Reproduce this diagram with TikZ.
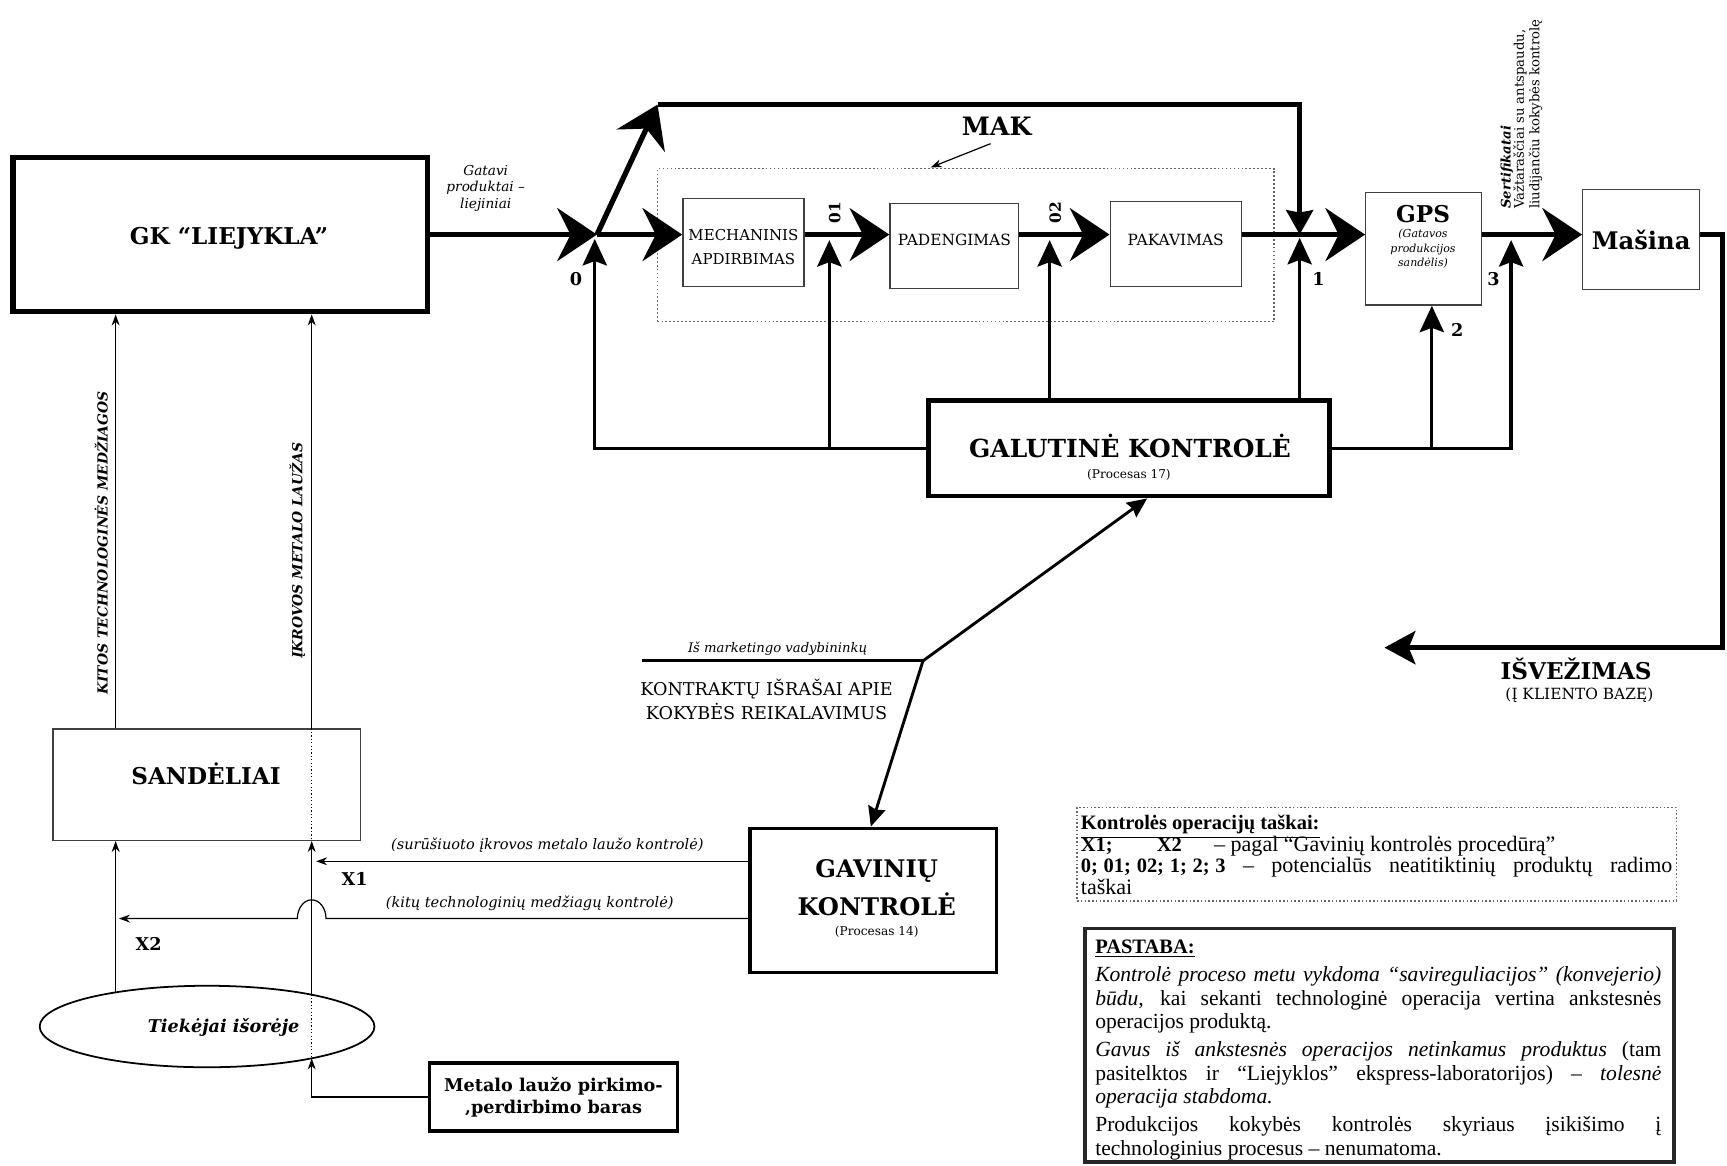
\documentclass[tikz,border=0pt]{standalone}
\usepackage{fontspec}
\setmainfont{DejaVu Serif}
\newfontfamily\notefont{Liberation Serif}
\usetikzlibrary{arrows.meta,shapes.geometric,calc}
\newcommand\fsz[2]{\fontsize{#1}{#2}\selectfont}
% keep a fixed baseline distance in the note boxes
\newcommand\tightlines{\lineskiplimit=-20pt\lineskip=0pt\relax}

\tikzset{
  flow/.style={line width=2.4pt},
  bighead/.style={-{Stealth[length=18pt,width=24pt,inset=6pt]}},
  downhead/.style={-{Stealth[length=11pt,width=12pt,inset=1pt]}},
  fb/.style={line width=1.5pt},
  fbhead/.style={-{Stealth[length=12pt,width=11pt,inset=2pt]}},
  thinline/.style={line width=0.55pt},
  smallhead/.style={-{Stealth[length=5pt,width=3.6pt]}},
  medline/.style={line width=1.3pt},
  medhead/.style={-{Stealth[length=9pt,width=8pt,inset=1pt]}},
  opbox/.style={draw=black!75, line width=0.6pt, rectangle, inner sep=0pt},
  heavybox/.style={draw, line width=2.5pt, rectangle, inner sep=0pt},
  numlabel/.style={font=\fsz{8pt}{9pt}\bfseries, inner sep=1pt},
  smallit/.style={font=\fsz{6pt}{7.5pt}\itshape, inner sep=1pt},
}
% bold items of the legend
\newcommand\lgb[1]{{\bfseries\fsz{9.3pt}{9.7pt}#1}}

\begin{document}
\begin{tikzpicture}[x=0.5pt,y=-0.5pt]
\path[use as bounding box, fill=white] (0,0) rectangle (1568,1058);

% ---------- main production line ----------
\node[heavybox, minimum width=188pt, minimum height=70pt] (gk) at (200,213) {};
\node[font=\fsz{10.5pt}{13pt}\bfseries] (gkt) at (208,216) {GK “LIEJYKLA”};
\node[smallit, align=center, font=\fsz{6.2pt}{7.5pt}\itshape] (gatavi) at (441,171)
  {Gatavi\\produktai –\\liejiniai};

\node[draw=black!60, densely dotted, line width=0.8pt, minimum width=280pt,
      minimum height=69.5pt, inner sep=0pt] (mak) at (877,222.5) {};
\node[font=\fsz{11.5pt}{13pt}\bfseries] (makl) at (905,115) {MAK};
\coordinate (makp) at (845,152);
\draw[thinline, smallhead] (makl.250) -- (makp);

\node[opbox, minimum width=55pt, minimum height=40pt] (mech) at (675,220) {};
\node[font=\fsz{6.8pt}{11pt}, align=center] (mecht) at (675,224) {MECHANINIS\\APDIRBIMAS};
\node[opbox, minimum width=58.5pt, minimum height=38.5pt] (pad) at (866.5,223.5) {};
\node[font=\fsz{7pt}{9pt}] (padt) at (866.5,218) {PADENGIMAS};
\node[opbox, minimum width=59.5pt, minimum height=38.5pt] (pak) at (1067.5,221.5) {};
\node[font=\fsz{7pt}{9pt}] (pakt) at (1067.5,218) {PAKAVIMAS};

\node[opbox, minimum width=52.5pt, minimum height=51pt] (gps) at (1292.5,226) {};
\node[font=\fsz{10.5pt}{12pt}\bfseries] (gpst) at (1292,194) {GPS};
\node[align=center, font=\fsz{5pt}{6.5pt}\itshape] (gpss) at (1292,226)
  {(Gatavos\\produkcijos\\sandėlis)};

\node[opbox, minimum width=53pt, minimum height=45.5pt,
      font=\fsz{11pt}{13pt}\bfseries] (masina) at (1490,217.5) {Mašina};

\node[rotate=90, anchor=north west, align=left, inner sep=0pt,
      font=\fsz{6pt}{6pt}] (sert) at (1362,190)
  {{\bfseries\itshape Sertifikatai}\\Važtaraščiai su antspaudu,\\liudijančiu kokybės kontrolę};

% junctions of the flow
\coordinate (j0) at (542,213);
\coordinate (tl) at (597,95);
\coordinate (j1) at (1180,213);
\coordinate (corner) at (1564,588);
\coordinate (isv) at (1257,588);

\draw[flow, bighead] (gk.east) -- (j0);
\draw[flow, bighead] (j0) -- (j0 -| mech.west);
\draw[flow, bighead] (j0) -- (tl);
\draw[flow, downhead] (tl) -| (j1);
\draw[flow, bighead] (mech.east |- j0) -- (pad.west |- j0);
\draw[flow, bighead] (pad.east |- j0) -- (pak.west |- j0);
\draw[flow, bighead] (pak.east |- j0) -- (gps.west |- j0);
\draw[flow, bighead] (gps.east |- j0) -- (masina.west |- j0);
\draw[flow, -{Stealth[length=14pt,width=15pt,inset=3pt]}]
  (masina.east |- j0) -| (corner) -- (isv);

\node[font=\fsz{10.5pt}{12pt}\bfseries] (isvt) at (1431,607) {IŠVEŽIMAS};
\node[font=\fsz{7pt}{8pt}] (isvs) at (1434,631) {(Į KLIENTO BAZĘ)};

% ---------- final control and feedback ----------
\node[heavybox, line width=2pt, minimum width=182pt, minimum height=43.5pt] (gal) at (1025,407) {};
\node[font=\fsz{11.3pt}{13pt}\bfseries] (galt) at (1026,405) {GALUTINĖ KONTROLĖ};
\node[font=\fsz{5.5pt}{7pt}] (gals) at (1025,431) {(Procesas 17)};

\coordinate (f0) at (540,217);
\coordinate (f01) at (753,218);
\coordinate (f02) at (953,218);
\coordinate (f1) at (1180,216);
\coordinate (f2) at (1300,407);
\coordinate (f3) at (1372,218);

\draw[fb, fbhead] (gal.west) -| (f0);
\draw[fb, fbhead] (f01 |- gal.west) -- (f01);
\draw[fb, fbhead] (gal.north -| f02) -- (f02);
\draw[fb, fbhead] (gal.north -| f1) -- (f1);
\draw[fb, fbhead] (gal.east) -| (f3);
\draw[fb, fbhead] (f2) -- (gps.south -| f2);

\node[numlabel] (n0) at (523,253) {0};
\node[numlabel, rotate=90, font=\fsz{7pt}{8pt}\bfseries] (n01) at (758,193) {01};
\node[numlabel, rotate=90, font=\fsz{7pt}{8pt}\bfseries] (n02) at (958,193) {02};
\node[numlabel] (n1) at (1197,253) {1};
\node[numlabel] (n2) at (1323,300) {2};
\node[numlabel] (n3) at (1356,253) {3};

% ---------- contract requirements ----------
\coordinate (mk) at (838,600);
\coordinate (mkl) at (583,600);
\node[smallit] (mkt) at (706,589) {Iš marketingo vadybininkų};
\node[align=center, font=\fsz{8pt}{10.5pt}] (kontr) at (696,635)
  {KONTRAKTŲ IŠRAŠAI APIE\\KOKYBĖS REIKALAVIMUS};

\node[heavybox, line width=1.5pt, minimum width=112pt, minimum height=65.5pt] (gav) at (793,817.5) {};
\node[font=\fsz{11pt}{13pt}\bfseries] (gavt1) at (796,791) {GAVINIŲ};
\node[font=\fsz{11pt}{13pt}\bfseries] (gavt2) at (796,821) {KONTROLĖ};
\node[font=\fsz{5.5pt}{7pt}] (gavs) at (796,846) {(Procesas 14)};

\draw[medline] (mkl) -- (mk);
\draw[medline, medhead] (mk) -- (gal.290);
\draw[medline, medhead] (mk) -- (gav.92);

% ---------- incoming materials ----------
\node[opbox, minimum width=139.5pt, minimum height=50.5pt] (sand) at (187.5,712.5) {};
\node[font=\fsz{10.5pt}{12pt}\bfseries] (sandt) at (187,703) {SANDĖLIAI};

\node[ellipse, draw, line width=0.8pt, minimum width=152pt, minimum height=37pt,
      inner sep=0pt] (tiek) at (188,932) {};
\node[font=\fsz{8pt}{9pt}\bfseries\itshape] (tiekt) at (203,933) {Tiekėjai išorėje};

\node[heavybox, line width=1.5pt, minimum width=112.5pt, minimum height=31pt,
      align=center, font=\fsz{8pt}{10pt}\bfseries] (met) at (502.5,996)
  {Metalo laužo pirkimo-\\‚perdirbimo baras};

\coordinate (xk) at (105,0);
\coordinate (xa) at (283,0);
\coordinate (ek) at ($(tiek.center)+(-83,-31)$);
\coordinate (ea) at ($(tiek.center)+(95,-29)$);
\coordinate (eb) at ($(tiek.center)+(95,29)$);

\draw[thinline, smallhead] (sand.north -| xk) -- (gk.south -| xk);
\draw[thinline, smallhead] (sand.north -| xa) -- (gk.south -| xa);
\draw[thinline, densely dotted] (sand.north -| xa) -- (sand.south -| xa);
\draw[thinline, smallhead] (ek) -- (sand.south -| ek);
\draw[thinline, smallhead] (ea) -- (sand.south -| ea);
\draw[thinline, densely dotted] (ea) -- (eb);
\draw[thinline, smallhead] (met.west) -| (eb);

\node[rotate=90, font=\fsz{6.3pt}{7pt}\bfseries\itshape] (kitos) at (92,493)
  {KITOS TECHNOLOGINĖS MEDŽIAGOS};
\node[rotate=90, font=\fsz{6.3pt}{7pt}\bfseries\itshape] (ikr) at (270,500)
  {ĮKROVOS METALO LAUŽAS};

\coordinate (x1e) at (287,782);
\coordinate (x2e) at (108,834);
\draw[thinline, smallhead] (gav.west |- x1e) -- (x1e);
\draw[thinline, smallhead] (gav.west |- x2e) -- (296,834)
  arc[start angle=0, end angle=-180, x radius=13, y radius=17] -- (x2e);
\node[smallit, font=\fsz{6.6pt}{7.5pt}\itshape] (x1t) at (497,767) {(surūšiuoto įkrovos metalo laužo kontrolė)};
\node[smallit, font=\fsz{6.6pt}{7.5pt}\itshape] (x2t) at (481,820) {(kitų technologinių medžiagų kontrolė)};
\node[numlabel] (x1) at (322,798) {X1};
\node[numlabel] (x2) at (135,857) {X2};

% ---------- legend ----------
\node[draw=black!60, densely dotted, line width=0.7pt, minimum width=272pt,
      minimum height=42.5pt, inner sep=0pt] (leg) at (1250,775.5) {};
\node[anchor=north west, inner sep=0pt, text width=268.5pt, align=justify,
      font=\notefont\fsz{10pt}{9.7pt}\tightlines] (legt) at (981,740)
  {\lgb{\underline{Kontrolės operacijų taškai:}}\\
   \makebox[34.5pt][l]{\lgb{X1;}}\makebox[26pt][l]{\lgb{X2}}– pagal “Gavinių kontrolės procedūrą”\\
   \lgb{0;\hspace{2.6pt}01;\hspace{2.6pt}02;\hspace{2.6pt}1;\hspace{2.6pt}2;\hspace{2.6pt}3} – potencialūs neatitiktinių produktų radimo\linebreak taškai};

\node[draw=black!85, line width=1.6pt, minimum width=267.5pt, minimum height=106pt,
      inner sep=0pt] (note) at (1252.5,949) {};
\node[anchor=north west, inner sep=0pt, text width=257pt, align=justify,
      font=\notefont\fsz{9.8pt}{10.7pt}\tightlines] (notet) at (994,853)
  {{\bfseries\fsz{9.3pt}{10pt}\underline{PASTABA:}}\par\vspace{2pt}
   \textit{Kontrolė proceso metu vykdoma “savireguliacijos” (konvejerio)\linebreak būdu,}
   kai sekanti technologinė operacija vertina ankstesnės\linebreak operacijos produktą.\par\vspace{2pt}
   \textit{Gavus iš ankstesnės operacijos netinkamus produktus} (tam\linebreak
   pasitelktos ir “Liejyklos” ekspress-laboratorijos) – \textit{tolesnė\linebreak operacija stabdoma.}\par\vspace{2pt}
   Produkcijos kokybės kontrolės skyriaus įsikišimo į\linebreak technologinius procesus – nenumatoma.};

\end{tikzpicture}
\end{document}
